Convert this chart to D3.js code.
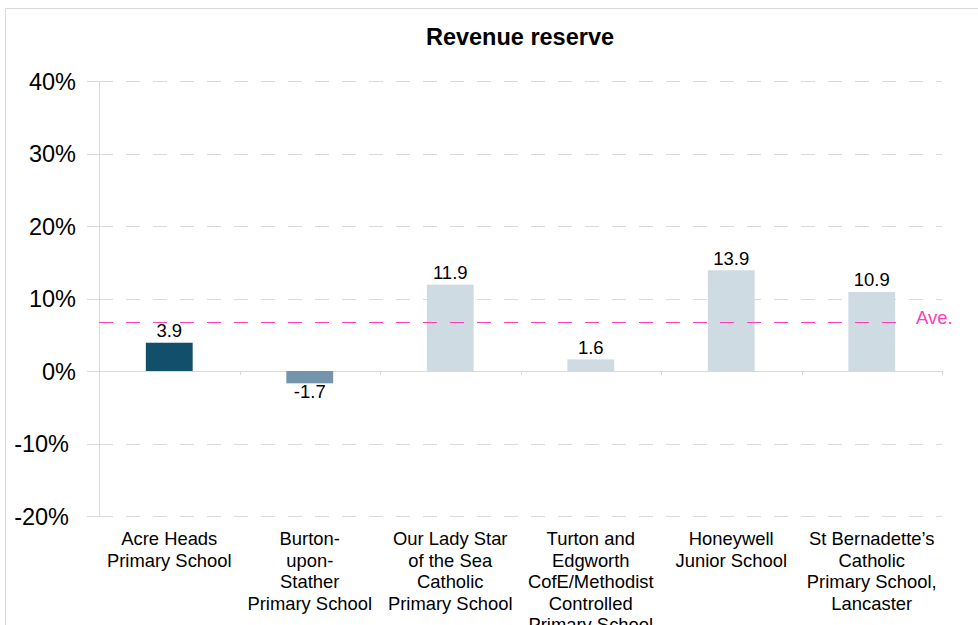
<!DOCTYPE html>
<html>
<head>
<meta charset="utf-8">
<script src="https://cdn.jsdelivr.net/npm/d3@7"></script>
<style>
  html, body { margin: 0; padding: 0; background: #fff; }
  svg { display: block; font-family: "Liberation Sans", Arial, sans-serif; }
</style>
</head>
<body>
<svg id="chart" width="978" height="625"></svg>
<script>
const categories = [
  ["Acre Heads", "Primary School"],
  ["Burton-", "upon-", "Stather", "Primary School"],
  ["Our Lady Star", "of the Sea", "Catholic", "Primary School"],
  ["Turton and", "Edgworth", "CofE/Methodist", "Controlled", "Primary School"],
  ["Honeywell", "Junior School"],
  ["St Bernadette’s", "Catholic", "Primary School,", "Lancaster"]
];
const values = [3.9, -1.7, 11.9, 1.6, 13.9, 10.9];
const barColors = ["#124f6b", "#7394ab", "#cfdbe3", "#cfdbe3", "#cfdbe3", "#cfdbe3"];
const yTicks = [-20, -10, 0, 10, 20, 30, 40];
const average = 6.75;
const title = "Revenue reserve";
const avgLabel = "Ave.";

const svg = d3.select("#chart");

// outer frame
svg.append("path")
  .attr("d", "M5.5,625 V8.5 H978")
  .attr("fill", "none").attr("stroke", "#d9d9d9").attr("stroke-width", 1);

const ids = categories.map((c, i) => i);
const x = d3.scaleBand().domain(ids).range([99, 942]).padding(0);
const y = d3.scaleLinear().domain([-20, 40]).range([516, 81]);

// title
svg.append("text")
  .attr("x", 520).attr("y", 45)
  .attr("text-anchor", "middle")
  .attr("font-weight", "bold").attr("font-size", 23.5)
  .attr("fill", "#000").text(title);

// gridlines
const grid = svg.append("g");
yTicks.forEach(t => {
  const yy = Math.round(y(t)) + 0.5;
  grid.append("line").attr("x1", 87).attr("x2", 99).attr("y1", yy).attr("y2", yy)
    .attr("stroke", "#d9d9d9");
  grid.append("line").attr("x1", 99).attr("x2", 942).attr("y1", yy).attr("y2", yy)
    .attr("stroke", "#d9d9d9")
    .attr("stroke-dasharray", t === 0 ? null : "14,13");
});

// y axis line
svg.append("line").attr("x1", 99.5).attr("x2", 99.5)
  .attr("y1", y(40)).attr("y2", y(-20)).attr("stroke", "#d9d9d9");

// category boundary ticks at zero line
ids.forEach(i => {
  if (i === 0) return;
  const xx = Math.round(x(i)) + 0.5;
  svg.append("line").attr("x1", xx).attr("x2", xx)
    .attr("y1", y(0)).attr("y2", y(0) + 4).attr("stroke", "#d9d9d9");
});
svg.append("line").attr("x1", 942.5).attr("x2", 942.5)
  .attr("y1", y(0)).attr("y2", y(0) + 4).attr("stroke", "#d9d9d9");

// y tick labels
const yAxis = d3.axisLeft(y).tickValues(yTicks).tickFormat(d => d + "%").tickSize(0).tickPadding(0);
const ya = svg.append("g").attr("transform", "translate(76,0)").call(yAxis);
ya.select(".domain").remove();
ya.selectAll("text")
  .attr("font-size", 23.5).attr("fill", "#000")
  .attr("font-family", "Liberation Sans, Arial, sans-serif")
  .attr("dy", "0.35em")
  .attr("x", d => d < 0 ? -7 : 0);

// bars
const bw = x.bandwidth() / 3;
svg.append("g").selectAll("rect").data(values).join("rect")
  .attr("x", (d, i) => x(i) + x.bandwidth() / 2 - bw / 2)
  .attr("width", bw)
  .attr("y", d => y(Math.max(0, d)))
  .attr("height", d => Math.abs(y(d) - y(0)))
  .attr("fill", (d, i) => barColors[i]);

// value labels
svg.append("g").selectAll("text").data(values).join("text")
  .attr("x", (d, i) => x(i) + x.bandwidth() / 2)
  .attr("y", d => d >= 0 ? y(d) - 5.5 : y(d) + 14.5)
  .attr("text-anchor", "middle")
  .attr("font-size", 18.5).attr("fill", "#000")
  .text(d => d.toFixed(1));

// average line
const ay = Math.round(y(average)) + 0.5;
svg.append("line").attr("x1", 99).attr("x2", 907).attr("y1", ay).attr("y2", ay)
  .attr("stroke", "#ff40b4").attr("stroke-width", 1)
  .attr("stroke-dasharray", "14,13");
svg.append("text").attr("x", 916).attr("y", ay + 1)
  .attr("font-size", 18.5).attr("fill", "#ff40b4").text(avgLabel);

// category labels
const cl = svg.append("g");
categories.forEach((lines, i) => {
  const cx = x(i) + x.bandwidth() / 2;
  const t = cl.append("text")
    .attr("x", cx)
    .attr("y", 545)
    .attr("text-anchor", "middle")
    .attr("font-size", 18.4).attr("fill", "#000");
  lines.forEach((ln, j) => {
    t.append("tspan").attr("x", cx)
      .attr("dy", j === 0 ? 0 : 21.5).text(ln);
  });
});
</script>
</body>
</html>
